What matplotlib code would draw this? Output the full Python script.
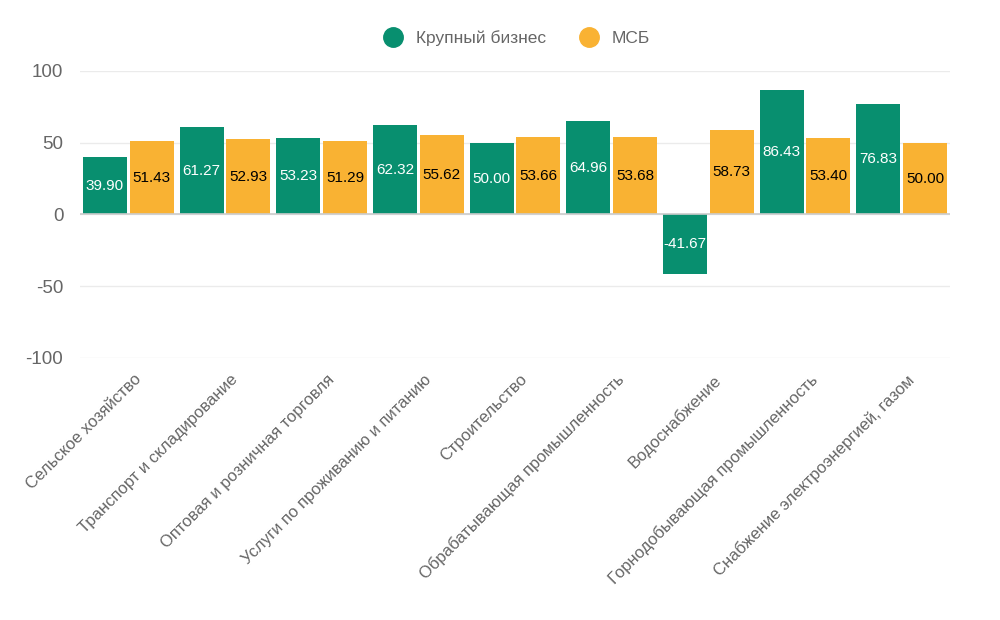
import matplotlib.pyplot as plt
import numpy as np

plt.rcParams['font.family'] = ['Liberation Sans', 'DejaVu Sans']

categories = ["Сельское хозяйство", "Транспорт и складирование", "Оптовая и розничная торговля",
              "Услуги по проживанию и питанию", "Строительство", "Обрабатывающая промышленность",
              "Водоснабжение", "Горнодобывающая промышленность", "Снабжение электроэнергией, газом"]
large = [39.90, 61.27, 53.23, 62.32, 50.00, 64.96, -41.67, 86.43, 76.83]
smb = [51.43, 52.93, 51.29, 55.62, 53.66, 53.68, 58.73, 53.40, 50.00]
series_names = ["Крупный бизнес", "МСБ"]

green = "#088F6F"
orange = "#F9B233"

fig = plt.figure(figsize=(10, 6.2), dpi=100)
ax = fig.add_axes([0.08, 0.4226, 0.87, 0.4629])

x = np.arange(len(categories))
w = 0.455
b1 = ax.bar(x - w / 2 - 0.015, large, w, color=green, label=series_names[0], zorder=3)
b2 = ax.bar(x + w / 2 + 0.015, smb, w, color=orange, label=series_names[1], zorder=3)

for bars, col in ((b1, "white"), (b2, "black")):
    for r in bars:
        v = r.get_height()
        ax.text(r.get_x() + r.get_width() / 2, v / 2, "{:.2f}".format(v),
                ha="center", va="center", color=col, fontsize=11, zorder=4)

ax.set_xlim(-0.5, len(categories) - 0.5)
ax.set_ylim(-100, 100)
ax.set_yticks([-100, -50, 0, 50, 100])
ax.set_yticklabels(["-100", "-50", "0", "50", "100"])
ax.grid(axis="y", color="#ebebeb", linewidth=1, zorder=0)
ax.axhline(0, color="#cccccc", linewidth=1.2, zorder=3.5)
for s in ax.spines.values():
    s.set_visible(False)
ax.tick_params(axis="y", length=0, labelsize=13.5, labelcolor="#666666", pad=12)
ax.tick_params(axis="x", length=0, labelsize=12, labelcolor="#666666", pad=10)
ax.set_xticks(x + 0.05)
ax.set_xticklabels(categories, rotation=45, ha="right", rotation_mode="anchor")

leg = fig.legend(handles=[
    plt.Line2D([], [], marker="o", linestyle="", color=green, markersize=14),
    plt.Line2D([], [], marker="o", linestyle="", color=orange, markersize=14)],
    labels=series_names, loc="center", bbox_to_anchor=(0.513, 0.938), ncol=2,
    frameon=False, fontsize=12.5, handletextpad=0.3, columnspacing=1.5)
for t in leg.get_texts():
    t.set_color("#666666")

fig.savefig("out.png", dpi=100)
